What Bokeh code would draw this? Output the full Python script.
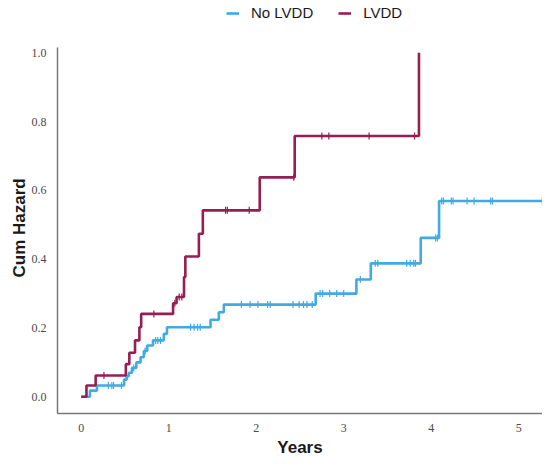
import numpy as np
from bokeh.plotting import figure
from bokeh.models import Legend, LegendItem, FixedTicker, Range1d, Title
from bokeh.embed import file_html
from bokeh.resources import INLINE

# ---- data ----
lv_times = [0.00, 0.06, 0.165, 0.51, 0.55, 0.615, 0.665, 0.685, 1.05, 1.09, 1.175, 1.19, 1.345, 1.39, 2.04, 2.44, 3.86]
lv_hazard = [0.0, 0.033, 0.062, 0.095, 0.128, 0.164, 0.202, 0.241, 0.272, 0.290, 0.348, 0.408, 0.474, 0.542, 0.638, 0.758, 1.0]
lv_censor = [0.26, 0.83, 1.07, 1.12, 1.15, 1.65, 1.67, 1.92, 2.43, 2.75, 2.83, 3.29, 3.81]

nl_times = [0.00, 0.10, 0.18, 0.49, 0.52, 0.545, 0.58, 0.63, 0.678, 0.716, 0.754, 0.82, 0.944, 0.98,
            1.478, 1.573, 1.63, 2.68, 3.145, 3.31, 3.88, 4.09, 5.27]
nl_hazard = [0.0, 0.018, 0.033, 0.05, 0.06, 0.07, 0.084, 0.10, 0.115, 0.133, 0.149, 0.164, 0.183, 0.202,
             0.224, 0.246, 0.268, 0.30, 0.341, 0.388, 0.462, 0.569, 0.569]
nl_censor = [0.31, 0.35, 0.37, 0.46, 0.60, 0.73, 0.85, 0.875, 0.906, 1.25, 1.29, 1.33, 1.36,
             1.83, 1.93, 2.02, 2.13, 2.16, 2.42, 2.49, 2.54, 2.58, 2.64, 2.73, 2.76, 2.84, 2.92, 3.00,
             3.19, 3.36, 3.39, 3.72, 3.76, 3.80, 3.82, 4.05, 4.07, 4.12, 4.14, 4.23, 4.25, 4.41, 4.49,
             4.68, 4.70, 5.27]

x_ticks = [0, 1, 2, 3, 4, 5]
y_ticks = [0.0, 0.2, 0.4, 0.6, 0.8, 1.0]
series_names = ["No LVDD", "LVDD"]
colors = ["#41A9E3", "#951F52"]


def level_at(times, hazard, ts):
    idx = np.searchsorted(np.array(times), np.array(ts), side="right") - 1
    return list(np.array(hazard)[idx])


# the frame reaches the top of the canvas so that the legend (inside it) stays visible;
# the y axis line is limited to the data band with bounds
p = figure(width=542, height=468, output_backend="svg", toolbar_location=None,
           x_range=Range1d(-0.271, 5.272), y_range=Range1d(-0.0485, 1.152),
           min_border_left=57, min_border_right=0, min_border_top=0, min_border_bottom=55)
p.xgrid.visible = False
p.ygrid.visible = False
p.outline_line_color = None

r_nl = p.step(nl_times, nl_hazard, mode="after", line_color=colors[0], line_width=2.6)
p.scatter(nl_censor, level_at(nl_times, nl_hazard, nl_censor), marker="dash", angle=np.pi / 2,
          size=7, line_color=colors[0], line_width=1.2, fill_alpha=0)
r_lv = p.step(lv_times, lv_hazard, mode="after", line_color=colors[1], line_width=2.6)
p.scatter(lv_censor, level_at(lv_times, lv_hazard, lv_censor), marker="dash", angle=np.pi / 2,
          size=7, line_color=colors[1], line_width=1.2, fill_alpha=0)

for ax in (p.xaxis[0], p.yaxis[0]):
    ax.axis_line_color = "#777777"
    ax.axis_line_width = 1.5
    ax.major_tick_line_color = None
    ax.minor_tick_line_color = None
    ax.major_label_text_font = "Liberation Serif"
    ax.major_label_text_font_size = "12px"
    ax.major_label_text_color = "#4a4a4a"
    ax.axis_label_text_font = "Liberation Sans"
    ax.axis_label_text_font_style = "bold"
    ax.axis_label_text_font_size = "17px"
    ax.axis_label_text_color = "#1a1a1a"

p.xaxis[0].ticker = FixedTicker(ticks=x_ticks)
p.yaxis[0].ticker = FixedTicker(ticks=y_ticks)
p.yaxis[0].bounds = (-0.0485, 1.0154)
p.yaxis[0].major_label_overrides = {t: f"{t:.1f}" for t in y_ticks}
p.xaxis[0].major_label_standoff = 4
p.yaxis[0].major_label_standoff = 5
p.xaxis[0].axis_label = "Years"
p.xaxis[0].axis_label_standoff = 3

ylab = Title(text="Cum Hazard", align="left", offset=136, standoff=0,
             text_font="Liberation Sans", text_font_style="bold", text_font_size="17px",
             text_color="#1a1a1a")
p.add_layout(ylab, "left")

legend = Legend(items=[LegendItem(label=series_names[0], renderers=[r_nl]),
                       LegendItem(label=series_names[1], renderers=[r_lv])],
                orientation="horizontal", location=(169, 392),
                glyph_width=13, glyph_height=14, label_height=14,
                label_standoff=12, spacing=25, padding=0, margin=0,
                border_line_alpha=0, background_fill_alpha=0,
                label_text_font="Liberation Sans", label_text_font_size="15px",
                label_text_color="#1a1a1a")
p.add_layout(legend, "center")

open("out.html", "w").write(file_html(p, INLINE))
